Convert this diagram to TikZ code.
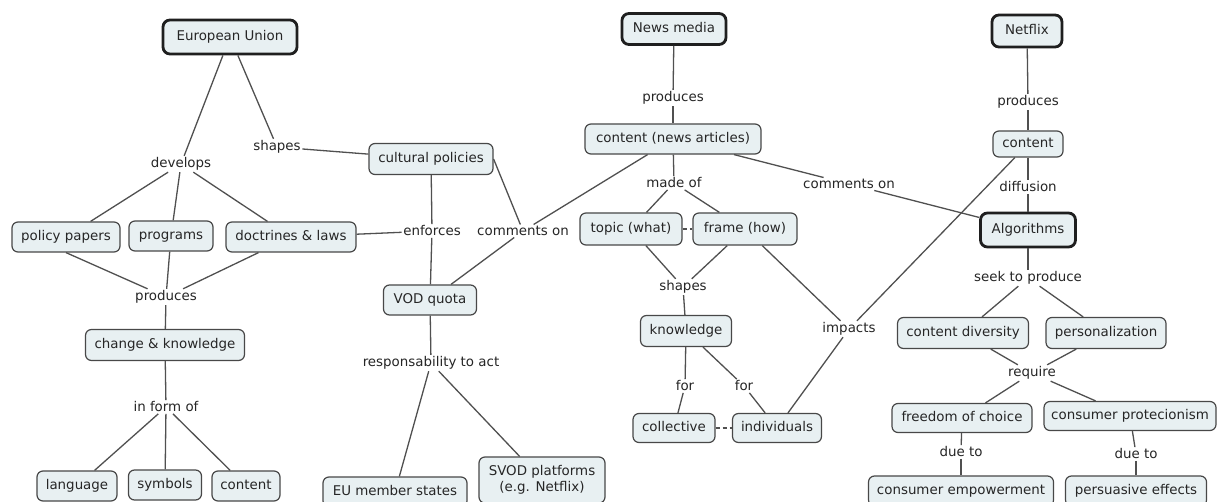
\documentclass[tikz,border=0pt]{standalone}
\usepackage{fontspec}
\setmainfont{DejaVu Sans}
\definecolor{fillcol}{HTML}{E8F0F2}
\definecolor{bordercol}{HTML}{484848}
\definecolor{textcol}{HTML}{262626}
\definecolor{linecol}{HTML}{505050}
\tikzset{
  concept/.style={draw=bordercol, fill=fillcol, rounded corners=6pt, line width=1.2pt,
    text=textcol, inner xsep=4pt, inner ysep=0pt, minimum height=30pt,
    text height=10pt, text depth=3pt},
  keyconcept/.style={concept, line width=2.8pt, draw=black!88, rounded corners=7pt},
  twoline/.style={draw=bordercol, fill=fillcol, rounded corners=6pt, line width=1.2pt,
    text=textcol, inner xsep=4pt, inner ysep=3pt, align=center},
  link/.style={text=textcol, inner sep=1.5pt},
  conn/.style={draw=linecol, line width=1.3pt},
  dashconn/.style={conn, dash pattern=on 4pt off 3pt},
}
\begin{document}
\begin{tikzpicture}[x=1pt,y=-1pt, font=\fontsize{13.4}{16}\selectfont]
\useasboundingbox[fill=white] (0,0) rectangle (1217,502);

% ---------------- left part ----------------
\node[keyconcept, minimum width=134pt, minimum height=34pt] (eu) at (230,37) {European Union};
\node[link] (develops) at (181,164) {develops};
\node[link] (shapesA) at (277,147) {shapes};
\node[concept, minimum width=108pt] (pp) at (66,237) {policy papers};
\node[concept, minimum width=84pt] (prog) at (171,236) {programs};
\node[concept, minimum width=130pt] (doct) at (291,237) {doctrines \& laws};
\node[link] (prodA) at (166,297) {produces};
\node[concept, minimum width=159pt, minimum height=31pt] (ck) at (165,345) {change \& knowledge};
\node[link] (inform) at (166,407) {in form of};
\node[concept, minimum width=80pt] (lang) at (77,486) {language};
\node[concept, minimum width=73pt] (sym) at (165,485) {symbols};
\node[concept, minimum width=68pt] (contA) at (246,486) {content};

% ---------------- middle-left ----------------
\node[concept, minimum width=124pt, minimum height=31pt] (cult) at (431,159) {cultural policies};
\node[link] (enf) at (432,231) {enforces};
\node[link] (comA) at (523,231) {comments on};
\node[concept, minimum width=93pt] (vod) at (430,300) {VOD quota};
\node[link] (resp) at (431,363) {responsability to act};
\node[concept, minimum width=144pt] (eums) at (395,492) {EU member states};
\node[twoline, minimum width=126pt, minimum height=46pt] (svod) at (542,480) {SVOD platforms\\(e.g. Netflix)};

% ---------------- news media ----------------
\node[keyconcept, minimum width=104pt, minimum height=31pt] (news) at (674,29) {News media};
\node[link] (prodB) at (673,98) {produces};
\node[concept, minimum width=176pt] (cna) at (673,139) {content (news articles)};
\node[link] (madeof) at (674,183) {made of};
\node[concept, minimum width=102pt, minimum height=32pt] (topic) at (631,229) {topic (what)};
\node[concept, minimum width=104pt, minimum height=32pt] (frame) at (745,229) {frame (how)};
\node[link] (shapesB) at (683,287) {shapes};
\node[concept, minimum width=91pt, minimum height=31pt] (know) at (686,331) {knowledge};
\node[link] (forA) at (685,386) {for};
\node[link] (forB) at (744,386) {for};
\node[concept, minimum width=82pt, minimum height=29pt] (coll) at (674,428) {collective};
\node[concept, minimum width=89pt, minimum height=29pt] (indiv) at (777,428) {individuals};
\node[link] (impacts) at (849,329) {impacts};
\node[link] (comB) at (849,184) {comments on};

% ---------------- netflix ----------------
\node[keyconcept, minimum width=70pt, minimum height=32pt] (netflix) at (1027,31) {Netflix};
\node[link] (prodC) at (1028,102) {produces};
\node[concept, minimum width=70pt, minimum height=26pt] (cnet) at (1028,144) {content};
\node[link] (diff) at (1028,187) {diffusion};
\node[keyconcept, minimum width=95pt, minimum height=34pt] (algo) at (1028,230) {Algorithms};
\node[link] (seek) at (1028,278) {seek to produce};
\node[concept, minimum width=131pt, minimum height=31pt] (cdiv) at (963,333) {content diversity};
\node[concept, minimum width=120pt, minimum height=31pt] (pers) at (1106,333) {personalization};
\node[link] (req) at (1032,373) {require};
\node[concept, minimum width=140pt, minimum height=29pt] (foc) at (962,418) {freedom of choice};
\node[concept, minimum width=172pt, minimum height=29pt] (cprot) at (1130,416) {consumer protecionism};
\node[link] (dueA) at (961,452) {due to};
\node[link] (dueB) at (1136,454) {due to};
\node[concept, minimum width=185pt] (cemp) at (961,491) {consumer empowerment};
\node[concept, minimum width=141pt] (persu) at (1136,491) {persuasive effects};

% ---------------- connectors ----------------
\draw[conn] (eu) -- (develops);
\draw[conn] (develops) -- (pp);
\draw[conn] (develops) -- (prog);
\draw[conn] (develops) -- (doct);
\draw[conn] (eu) -- (shapesA);
\draw[conn] (shapesA) -- (cult);
\draw[conn] (pp.south) -- (prodA);
\draw[conn] (prog) -- (prodA);
\draw[conn] (doct) -- (prodA);
\draw[conn] (prodA) -- (ck);
\draw[conn] (ck) -- (inform);
\draw[conn] (inform) -- (lang);
\draw[conn] (inform) -- (sym);
\draw[conn] (inform) -- (contA);

\draw[conn] (doct) -- (enf);
\draw[conn] (cult) -- (enf);
\draw[conn] (enf) -- (vod);
\draw[conn] (cult.east) -- (comA);
\draw[conn] (cna) -- (comA);
\draw[conn] (comA) -- (vod);
\draw[conn] (vod) -- (resp);
\draw[conn] (resp) -- (eums);
\draw[conn] (resp) -- (svod);

\draw[conn] (news) -- (prodB);
\draw[conn] (prodB) -- (cna);
\draw[conn] (cna) -- (madeof);
\draw[conn] (madeof) -- (topic);
\draw[conn] (madeof) -- (frame);
\draw[dashconn] (topic) -- (frame);
\draw[conn] (cna) -- (comB);
\draw[conn] (comB) -- (algo);
\draw[conn] (topic) -- (shapesB);
\draw[conn] (frame) -- (shapesB);
\draw[conn] (shapesB) -- (know);
\draw[conn] (know) -- (forA);
\draw[conn] (forA) -- (coll);
\draw[conn] (know) -- (forB);
\draw[conn] (forB) -- (indiv);
\draw[dashconn] (coll) -- (indiv);
\draw[conn] (frame) -- (impacts);
\draw[conn] (cnet) -- (impacts);
\draw[conn] (impacts) -- (indiv);

\draw[conn] (netflix) -- (prodC);
\draw[conn] (prodC) -- (cnet);
\draw[conn] (cnet) -- (diff);
\draw[conn] (diff) -- (algo);
\draw[conn] (algo) -- (seek);
\draw[conn] (seek) -- (cdiv);
\draw[conn] (seek) -- (pers);
\draw[conn] (cdiv) -- (req);
\draw[conn] (pers) -- (req);
\draw[conn] (req) -- (foc);
\draw[conn] (req) -- (cprot);
\draw[conn] (foc) -- (dueA);
\draw[conn] (dueA) -- (cemp);
\draw[conn] (cprot) -- (dueB);
\draw[conn] (dueB) -- (persu);
\end{tikzpicture}
\end{document}
